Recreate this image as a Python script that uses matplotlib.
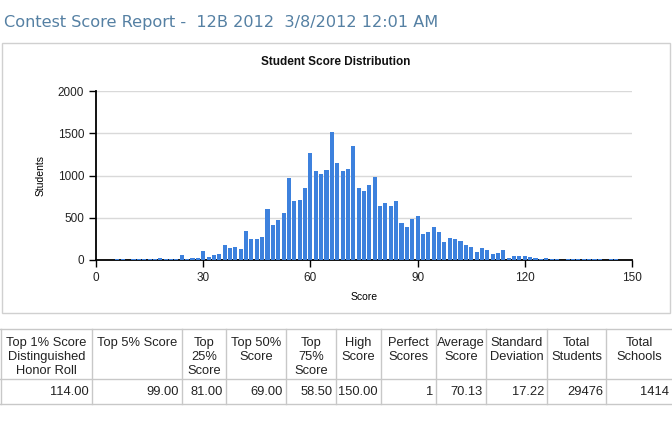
import matplotlib
matplotlib.use("Agg")
import matplotlib.pyplot as plt
from matplotlib.lines import Line2D
from matplotlib.patches import Rectangle
import numpy as np

# ---- data ----
scores = [6, 7.5, 10.5, 12, 13.5, 15, 16.5, 18, 19.5, 21, 22.5, 24, 25.5, 27, 28.5,
          30, 31.5, 33, 34.5, 36, 37.5, 39, 40.5, 42, 43.5, 45, 46.5, 48, 49.5,
          51, 52.5, 54, 55.5, 57, 58.5, 60, 61.5, 63, 64.5, 66, 67.5, 69, 70.5,
          72, 73.5, 75, 76.5, 78, 79.5, 81, 82.5, 84, 85.5, 87, 88.5, 90, 91.5,
          93, 94.5, 96, 97.5, 99, 100.5, 102, 103.5, 105, 106.5, 108, 109.5, 111,
          112.5, 114, 115.5, 117, 118.5, 120, 121.5, 123, 124.5, 126, 127.5, 129,
          132, 133.5, 135, 136.5, 138, 139.5, 141, 144, 145.5, 150]
students = [10, 10, 8, 10, 10, 10, 10, 28, 12, 12, 12, 59, 8, 28, 28,
            110, 40, 59, 75, 182, 146, 158, 130, 347, 249, 251, 272, 606, 410,
            474, 557, 971, 699, 711, 849, 1263, 1054, 1019, 1066, 1512, 1149, 1054, 1078,
            1350, 849, 817, 884, 983, 636, 675, 640, 699, 439, 391, 491, 525, 312,
            334, 396, 336, 216, 264, 252, 228, 180, 156, 96, 144, 120, 76,
            88, 120, 24, 48, 48, 48, 32, 24, 16, 24, 8, 8,
            8, 8, 8, 8, 8, 8, 8, 8, 8, 1]

x_ticks = [0, 30, 60, 90, 120, 150]
y_ticks = [0, 500, 1000, 1500, 2000]

header_labels = ["Top 1% Score\nDistinguished\nHonor Roll", "Top 5% Score", "Top\n25%\nScore",
                 "Top 50%\nScore", "Top\n75%\nScore", "High\nScore", "Perfect\nScores",
                 "Average\nScore", "Standard\nDeviation", "Total\nStudents", "Total\nSchools"]
row_values = ["114.00", "99.00", "81.00", "69.00", "58.50", "150.00", "1",
              "70.13", "17.22", "29476", "1414"]

page_title = "Contest Score Report -  12B 2012  3/8/2012 12:01 AM"
chart_title = "Student Score Distribution"

# ---- figure ----
W, H = 672, 432
fig = plt.figure(figsize=(W / 100, H / 100), dpi=100)
fig.patch.set_facecolor("white")

def fx(x):
    return x / W

def fy(y):
    return 1 - y / H

# page title
fig.text(fx(4), fy(22), page_title, fontsize=11.6, color="#5580a3",
         family="DejaVu Sans", va="center", ha="left")

# chart frame
fig.add_artist(Rectangle((fx(2), fy(313)), fx(668) - fx(0), fy(43) - fy(313),
                         transform=fig.transFigure, fill=False,
                         edgecolor="#d0d0d0", linewidth=1))

fig.text(fx(336), fy(62), chart_title, fontsize=8.5, fontweight="bold",
         family="Liberation Sans", ha="center", va="center", color="#111111")

# axes
ax = fig.add_axes([fx(96), fy(260), fx(632) - fx(96), fy(91) - fy(260)])
ax.bar(scores, students, width=1.15, color="#3d81dd", zorder=3)
ax.set_xlim(0, 150)
ax.set_ylim(0, 2000)
ax.set_xticks(x_ticks)
ax.set_yticks(y_ticks)
ax.yaxis.grid(True, color="#d9d9d9", linewidth=1, zorder=0)
ax.set_axisbelow(True)
for s in ["top", "right"]:
    ax.spines[s].set_visible(False)
for s in ["left", "bottom"]:
    ax.spines[s].set_color("black")
    ax.spines[s].set_linewidth(1.3)
ax.tick_params(axis="both", direction="out", length=5, width=1, colors="black",
               labelsize=8.5, labelcolor="#222222")
for lab in ax.get_xticklabels() + ax.get_yticklabels():
    lab.set_family("Liberation Sans")
ax.set_xlabel("Score", fontsize=7.5, family="Liberation Sans", labelpad=6)
ax.set_ylabel("Students", fontsize=7.5, family="Liberation Sans", labelpad=9)

# table
col_edges = [0.5, 92, 182, 226, 286, 336, 381, 436, 486, 547, 606, 672]
row_lines = [329, 379, 404]
grid_col = "#c8c8c8"
for y in row_lines:
    fig.add_artist(Line2D([fx(0), fx(672)], [fy(y), fy(y)], transform=fig.transFigure,
                          color=grid_col, linewidth=1))
for x in col_edges[:-1]:
    fig.add_artist(Line2D([fx(x), fx(x)], [fy(329), fy(404)], transform=fig.transFigure,
                          color=grid_col, linewidth=1))
for i, (lab, val) in enumerate(zip(header_labels, row_values)):
    x0, x1 = col_edges[i], col_edges[i + 1]
    fig.text(fx((x0 + x1) / 2), fy(337), lab, fontsize=9.3, family="Liberation Sans",
             ha="center", va="top", color="#222222", linespacing=1.25)
    fig.text(fx(x1 - 3), fy(392), val, fontsize=9.3, family="Liberation Sans",
             ha="right", va="center", color="#222222")

fig.savefig("out.png", dpi=100)
